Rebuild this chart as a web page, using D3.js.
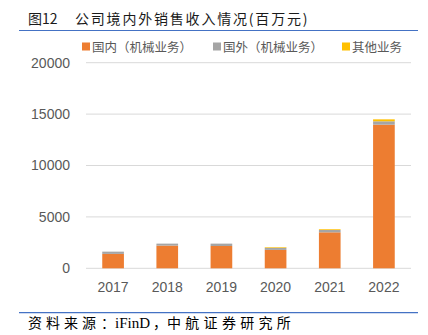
<!DOCTYPE html>
<html><head><meta charset="utf-8">
<script src="https://cdn.jsdelivr.net/npm/d3@7"></script>
<style>body{margin:0;background:#fff}svg{display:block}</style>
</head><body>
<svg id="c" width="428" height="335"></svg>
<script>
const categories = ["2017","2018","2019","2020","2021","2022"];
const domestic = [1400, 2210, 2170, 1790, 3500, 13970];
const foreign = [220, 190, 230, 200, 230, 330];
const other = [0, 0, 0, 60, 70, 190];
const seriesNames = ["国内（机械业务）","国外（机械业务）","其他业务"];
const colors = ["#ED7D31","#A5A5A5","#FFC000"];
const yTicks = [0, 5000, 10000, 15000, 20000];

const svg = d3.select("#c");
const fontCJK = "'Noto Sans CJK SC', sans-serif";

// title
svg.append("text").attr("x",28).attr("y",24).attr("font-family",fontCJK).attr("font-size",14).attr("fill","#1a1a1a")
  .text("图12");
svg.append("text").attr("x",75).attr("y",24).attr("font-family",fontCJK).attr("font-size",14).attr("fill","#1a1a1a")
  .attr("letter-spacing","1.8px")
  .text("公司境内外销售收入情况(百万元)");
svg.append("line").attr("x1",19).attr("x2",418).attr("y1",30.5).attr("y2",30.5).attr("stroke","#4472C4").attr("stroke-width",1.2);

const x = d3.scaleBand().domain(categories).range([86,411]).paddingInner(0.6).paddingOuter(0.3);
const y = d3.scaleLinear().domain([0,20000]).range([268.3,62.7]);

// gridlines
svg.append("g").selectAll("line").data(yTicks).join("line")
  .attr("x1",86).attr("x2",411).attr("y1",d=>y(d)).attr("y2",d=>y(d))
  .attr("stroke","#D9D9D9").attr("stroke-width",1);

// y axis labels
const yAxis = d3.axisLeft(y).tickValues(yTicks).tickSize(0).tickPadding(16).tickFormat(d3.format("d"));
const ya = svg.append("g").attr("transform","translate(86,0)").call(yAxis);
ya.select(".domain").remove();
ya.selectAll("text").attr("font-family","'Liberation Sans', Arial, sans-serif").attr("font-size",14).attr("fill","#595959");

// stacked bars
const table = categories.map((c,i)=>({cat:c, d:domestic[i], f:foreign[i], o:other[i]}));
const stack = d3.stack().keys(["d","f","o"])(table);
svg.append("g").selectAll("g").data(stack).join("g").attr("fill",(s,i)=>colors[i])
  .selectAll("rect").data(s=>s).join("rect")
  .attr("x",d=>x(d.data.cat)).attr("width",x.bandwidth())
  .attr("y",d=>y(d[1])).attr("height",d=>Math.max(0,y(d[0])-y(d[1])));

// x axis labels
const xAxis = d3.axisBottom(x).tickSize(0).tickPadding(14);
const xa = svg.append("g").attr("transform","translate(0,268.3)").call(xAxis);
xa.select(".domain").remove();
xa.selectAll("text").attr("font-family","'Liberation Sans', Arial, sans-serif").attr("font-size",14).attr("fill","#595959");

// legend
const legX = [82, 213, 342];
const lg = svg.append("g").selectAll("g").data(seriesNames).join("g")
  .attr("transform",(d,i)=>`translate(${legX[i]},0)`);
lg.append("rect").attr("x",0).attr("y",42.5).attr("width",8).attr("height",8).attr("fill",(d,i)=>colors[i]);
lg.append("text").attr("x",10).attr("y",51.5).attr("font-family",fontCJK).attr("font-size",12.5).attr("fill","#595959").text(d=>d);

// bottom line & source
svg.append("line").attr("x1",19).attr("x2",418).attr("y1",312.7).attr("y2",312.7).attr("stroke","#4472C4").attr("stroke-width",1.2);
const src = svg.append("text").attr("y",328).attr("font-family",fontCJK).attr("font-size",14).attr("fill","#000");
src.append("tspan").attr("x",28).attr("letter-spacing","4px").text("资料来源");
src.append("tspan").attr("x",101).text("：");
src.append("tspan").attr("x",115).attr("font-family","'Liberation Serif', serif").attr("font-size",15).text("iFinD");
src.append("tspan").attr("x",153).text("，");
src.append("tspan").attr("x",167).attr("letter-spacing","4.3px").text("中航证券研究所");
</script>
</body></html>
